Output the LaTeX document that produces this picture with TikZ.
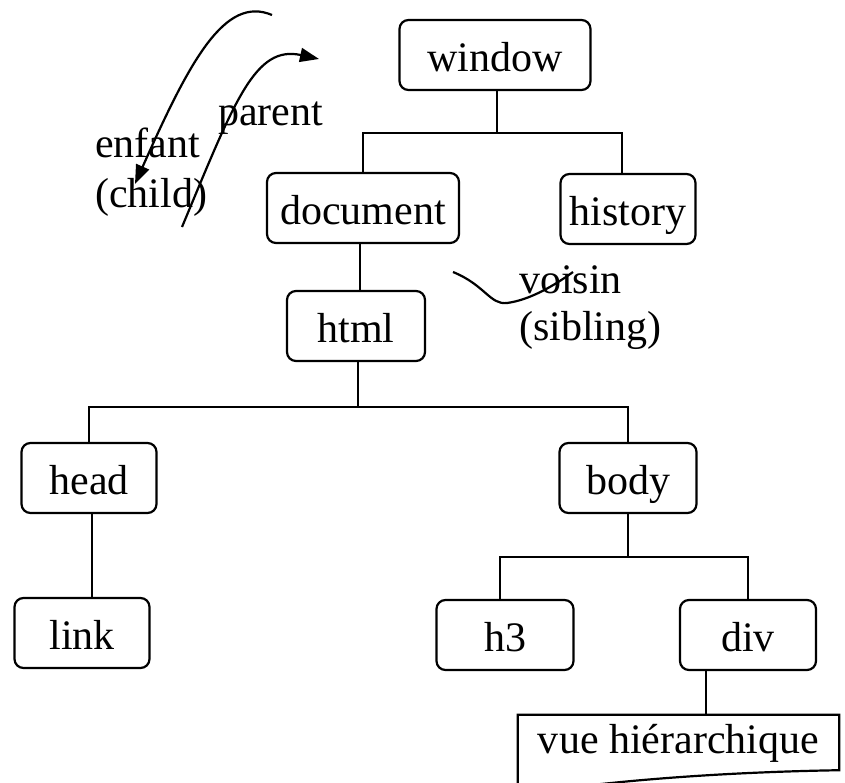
\documentclass[tikz,border=0pt]{standalone}
\usepackage{fontspec}
\setmainfont{Liberation Serif}
\usetikzlibrary{arrows.meta}
\begin{document}
\begin{tikzpicture}[x=1pt,y=-1pt,
  txt/.style={font=\fontsize{42}{48}\selectfont},
  box/.style={txt,draw,line width=2.2pt,rounded corners=9pt,minimum height=70pt,
              inner sep=0pt,text height=38pt,text depth=6pt},
  tree/.style={line width=2.2pt},
  lbl/.style={txt,inner sep=0pt,anchor=base west},
  curvy/.style={line width=2.2pt},
  tip/.style={-{Triangle[length=19pt,width=14pt]}},
  ]
\useasboundingbox (0,0) rectangle (845,782);
\clip (0,0) rectangle (845,782);

% DOM tree nodes
\node[box,minimum width=191pt] (window)   at (495,55)  {window};
\node[box,minimum width=192pt] (document) at (363,208) {document};
\node[box,minimum width=135pt] (history)  at (628,209) {history};
\node[box,minimum width=138pt] (html)     at (356,326) {html};
\node[box,minimum width=135pt] (head)     at (89,478)  {head};
\node[box,minimum width=137pt] (body)     at (628,478) {body};
\node[box,minimum width=135pt] (link)     at (82,633)  {link};
\node[box,minimum width=137pt] (h3)       at (505,635) {h3};
\node[box,minimum width=136pt] (div)      at (748,635) {div};

% caption in a document-shaped frame
\node[txt,inner sep=0pt,minimum width=321pt,minimum height=44pt,
      text height=38pt,text depth=6pt] (vue) at (678.5,737) {vue hiérarchique};
\draw[tree] (vue.north west) -- ++(0,80)
  .. controls +(90,-14) and +(-120,2) .. ([yshift=-11pt]vue.south east)
  -- (vue.north east) -- cycle;

% branch points
\coordinate (bar1) at (497,133);
\coordinate (bar2) at (358,407);
\coordinate (bar3) at (628,557);

% tree connectors
\draw[tree] (bar1 |- window.south) -- (bar1);
\draw[tree] (document.north) |- (bar1) -| ([xshift=-6pt]history.north);
\draw[tree] ([xshift=-3pt]document.south) -- ([xshift=4pt]html.north);
\draw[tree] (bar2 |- html.south) -- (bar2);
\draw[tree] (head.north) |- (bar2) -| (body.north);
\draw[tree] ([xshift=3pt]head.south) -- ([xshift=3pt]head.south |- link.north);
\draw[tree] (body.south) -- (bar3);
\draw[tree] ([xshift=-5pt]h3.north) |- (bar3) -| (div.north);
\draw[tree] ([xshift=-42pt]div.south) -- ([xshift=-42pt]div.south |- vue.north);

% relation labels
\node[lbl] (enfant)  at (95,157)  {enfant};
\node[lbl] (child)   at (95,207)  {(child)};
\node[lbl] (parent)  at (218,125) {parent};
\node[lbl] (voisin)  at (519,293) {voisin};
\node[lbl] (sibling) at (519,340) {(sibling)};

% relation arrows
\coordinate (e0) at (272,15);
\coordinate (e1) at (135,184);
\draw[curvy,tip] (e0) .. controls (225,-5) and (190,60) .. (e1);
\coordinate (p0) at (182,227);
\coordinate (p1) at (319,59);
\draw[curvy,tip] (p0) .. controls (235,100) and (255,45) .. (p1);
\coordinate (s0) at (453,272);
\coordinate (s1) at (507,303);
\coordinate (s2) at (573,272);
\draw[curvy] (s0) .. controls (485,285) and (490,305) .. (s1)
  .. controls (530,300) and (555,285) .. (s2);
\end{tikzpicture}
\end{document}
